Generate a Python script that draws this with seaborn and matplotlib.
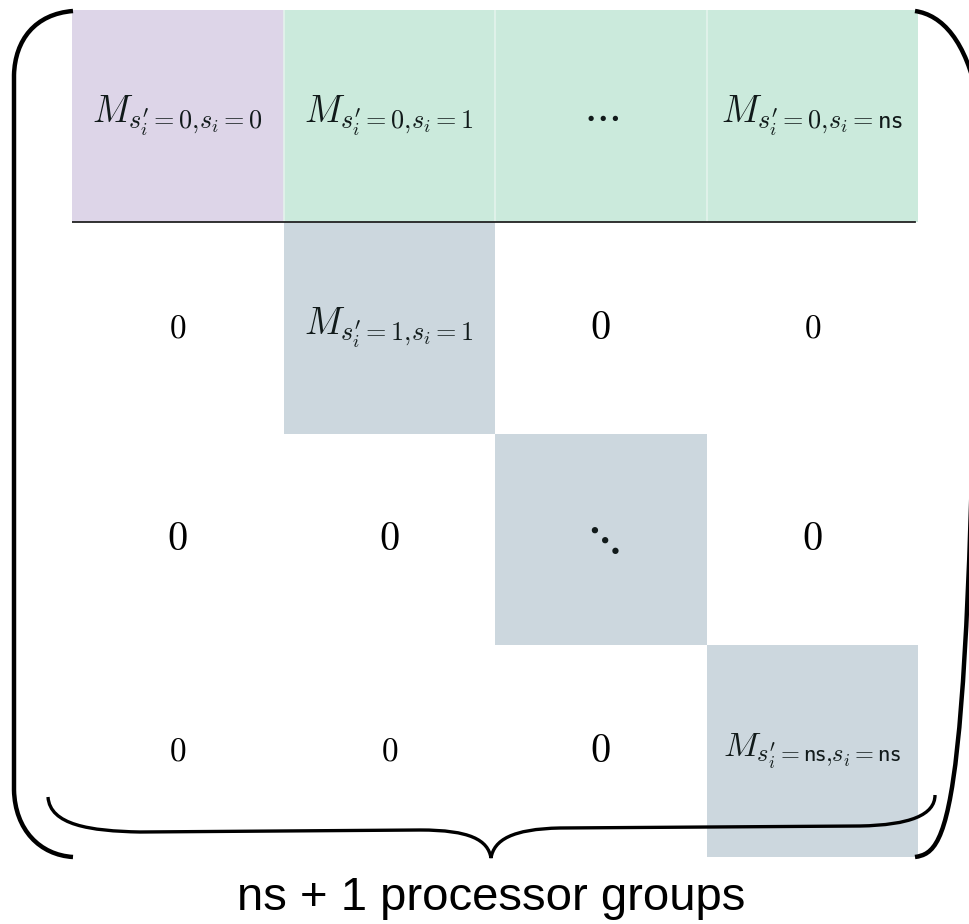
import numpy as np
import pandas as pd
import matplotlib
matplotlib.use("Agg")
import matplotlib.pyplot as plt
import seaborn as sns
from matplotlib.colors import ListedColormap
from matplotlib.path import Path
from matplotlib.patches import PathPatch

# cell groups: 0 = zero block, 1 = master block, 2 = first row blocks, 3 = diagonal blocks
grupos = [
    [1, 2, 2, 2],
    [0, 3, 0, 0],
    [0, 0, 3, 0],
    [0, 0, 0, 3],
]
etiquetas = [
    [r"$M_{s^{\prime}_i{=}0{,}s_i{=}0}$", r"$M_{s^{\prime}_i{=}0{,}s_i{=}1}$", r"$\cdots$",
     r"$M_{s^{\prime}_i{=}0{,}s_i{=}\mathsf{ns}}$"],
    [r"$0$", r"$M_{s^{\prime}_i{=}1{,}s_i{=}1}$", r"$0$", r"$0$"],
    [r"$0$", r"$0$", r"$\ddots$", r"$0$"],
    [r"$0$", r"$0$", r"$0$", r"$M_{s^{\prime}_i{=}\mathsf{ns}{,}s_i{=}\mathsf{ns}}$"],
]
titulo = "ns + 1 processor groups"

# font size per cell (style only)
tamanos = [
    [27, 27, 30, 27],
    [24, 27, 29, 24],
    [29, 29, 36, 29],
    [24, 24, 29, 25],
]
colores = ["#ffffff", "#ddd5e8", "#cbeadc", "#ccd7de"]

df = pd.DataFrame(grupos)

plt.rcParams["mathtext.fontset"] = "cm"
W, H = 969, 924
fig = plt.figure(figsize=(W / 100, H / 100), dpi=100)
ax = fig.add_axes([72 / W, 1 - 857 / H, (918 - 72) / W, (857 - 10) / H])

sns.heatmap(df, ax=ax, cmap=ListedColormap(colores), vmin=-0.5, vmax=3.5,
            cbar=False, annot=np.array(etiquetas), fmt="", linewidths=0,
            xticklabels=False, yticklabels=False)

for t in ax.texts:
    x, y = t.get_position()
    c, r = int(x), int(y)
    t.set_fontsize(tamanos[r][c])
    t.set_color("black" if grupos[r][c] == 0 else "#111a1a")

# faint separators in the top row, dark line under it
ax.vlines([1, 2, 3], 0, 1, color="#e4f3ec", lw=1.2)
ax.axhline(1, xmin=0, xmax=0.997, color="#222222", lw=1.3)


def px(x, y):
    return (x / W, 1 - y / H)


def dibujar(segs, lw):
    verts, codes = [], []
    for kind, pts in segs:
        verts += [px(*p) for p in pts]
        if kind == "M":
            codes += [Path.MOVETO]
        elif kind == "L":
            codes += [Path.LINETO]
        else:
            codes += [Path.CURVE4] * 3
    fig.add_artist(PathPatch(Path(verts, codes), transform=fig.transFigure,
                             fill=False, lw=lw, color="black", capstyle="butt"))


# left bracket
dibujar([("M", [(73, 11)]), ("C", [(35, 14), (15, 40), (14, 75)]),
         ("L", [(14, 790)]), ("C", [(15, 830), (40, 855), (73, 857)])], 3.2)
# right bracket
dibujar([("M", [(915, 11)]), ("C", [(942, 15), (966, 40), (978, 100)]),
         ("L", [(978, 750)]), ("C", [(972, 820), (950, 852), (915, 857)])], 3.2)
# curly brace
dibujar([("M", [(48, 797)]), ("C", [(50, 825), (90, 831), (140, 832)]),
         ("L", [(420, 830)]), ("C", [(470, 830), (488, 840), (491, 858)]),
         ("C", [(494, 840), (512, 829), (560, 828)]), ("L", [(860, 826)]),
         ("C", [(910, 825), (935, 815), (935, 795)])], 2.4)

fig.text(491 / W, 1 - 898 / H, titulo, ha="center", va="center",
         fontsize=34, family=["Liberation Sans", "DejaVu Sans"])

fig.savefig("out.png", dpi=100)
